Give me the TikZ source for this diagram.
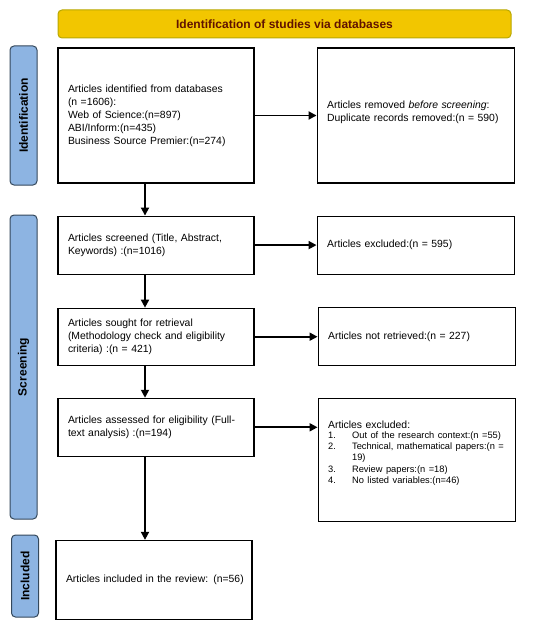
\documentclass[tikz,border=0pt]{standalone}
\usepackage{fontspec}
\setmainfont{Liberation Sans}
\usetikzlibrary{arrows.meta,positioning}
\definecolor{bandfill}{RGB}{242,198,0}
\definecolor{banddraw}{RGB}{184,168,0}
\definecolor{bandtext}{RGB}{96,18,0}
\definecolor{tabfill}{RGB}{141,180,226}
\definecolor{tabdraw}{RGB}{52,72,92}
\tikzset{
  stage/.style={
      rectangle,
      draw=black,
      line width=1.1pt,
      fill=white,
      inner xsep=10pt,
      inner ysep=2pt,
      text width=176pt,
      align=left,
      font=\fontsize{10.4}{13}\selectfont
  },
  tab/.style={
      rectangle,
      rounded corners=4pt,
      draw=tabdraw,
      line width=1pt,
      fill=tabfill,
      rotate=90,
      minimum height=27pt,
      inner sep=0pt,
      font=\bfseries\fontsize{12}{14}\selectfont
  },
  band/.style={
      rectangle,
      rounded corners=4pt,
      draw=banddraw,
      line width=1pt,
      fill=bandfill,
      text=bandtext,
      minimum width=453pt,
      minimum height=28pt,
      font=\bfseries\fontsize{12}{14}\selectfont
  },
  flow/.style={-{Triangle[length=8pt,width=8pt]}, line width=1.8pt}
}
\newcommand{\itemno}[1]{\makebox[24pt][l]{#1}}

\begin{document}
\begin{tikzpicture}[x=1pt,y=-1pt,node distance=32pt]
    \useasboundingbox (0,0) rectangle (550,626);
    % header and side tabs
    \node[band] (head) at (284.5,24) {Identification of studies via databases};
    \node[tab, minimum width=139pt] (tabid) at (23.5,115.5) {Identification};
    \node[tab, minimum width=304pt] (tabscr) at (23.5,367) {Screening};
    \node[tab, minimum width=82pt] (tabinc) at (25,576) {Included};
    % main column
    \node[stage, minimum height=135pt] (ident) at (156,115.5)
      {Articles identified from databases\\(n =1606):\\Web of Science:(n=897)\\ABI/Inform:(n=435)\\Business Source Premier:(n=274)};
    \node[stage, minimum height=58pt, below=32pt of ident] (screen)
      {Articles screened (Title, Abstract,\\Keywords) :(n=1016)};
    \node[stage, minimum height=57pt, below=33pt of screen] (sought)
      {Articles sought for retrieval\\(Methodology check and eligibility\\criteria) :(n = 421)};
    \node[stage, minimum height=58pt, below=32pt of sought] (assess)
      {Articles assessed for eligibility (Full-\\text analysis) :(n=194)};
    \node[stage, text width=182pt, inner xsep=7pt, minimum height=79pt, below=83pt of assess, xshift=-2pt] (incl)
      {\hspace*{3pt}Articles included in the review: (n=56)};
    % side column
    \node[stage, text width=177pt, minimum height=135pt, right=62pt of ident] (removed)
      {Articles removed \textit{before screening}:\\Duplicate records removed:(n = 590)\par\vspace{-5pt}\mbox{}};
    \node[stage, text width=177pt, minimum height=58pt, right=62pt of screen] (excla)
      {Articles excluded:(n = 595)};
    \node[stage, text width=177pt, minimum height=58pt, right=63pt of sought] (notret)
      {Articles not retrieved:(n = 227)};
    \node[stage, text width=177pt, minimum height=123pt, anchor=north west] (exclb)
      at ([xshift=63pt]assess.north east)
      {Articles excluded:\par\vspace{-1.5pt}
       {\fontsize{9.3}{11.2}\selectfont
        \itemno{1.}Out of the research context:(n =55)\\
        \itemno{2.}Technical, mathematical papers:(n =\\
        \itemno{}19)\\
        \itemno{3.}Review papers:(n =18)\\
        \itemno{4.}No listed variables:(n=46)\par}\vspace{2pt}\mbox{}};
    % connectors
    \draw[flow] (ident) -- (removed);
    \draw[flow] (screen) -- (excla);
    \draw[flow] (sought) -- (notret);
    \draw[flow] (assess.east) -- (assess.east -| exclb.west);
    \draw[flow] ([xshift=-11pt]ident.south) -- ([xshift=-11pt]ident.south |- screen.north);
    \draw[flow] ([xshift=-11pt]screen.south) -- ([xshift=-11pt]screen.south |- sought.north);
    \draw[flow] ([xshift=-11pt]sought.south) -- ([xshift=-11pt]sought.south |- assess.north);
    \draw[flow] ([xshift=-11pt]assess.south) -- ([xshift=-11pt]assess.south |- incl.north);
\end{tikzpicture}
\end{document}
